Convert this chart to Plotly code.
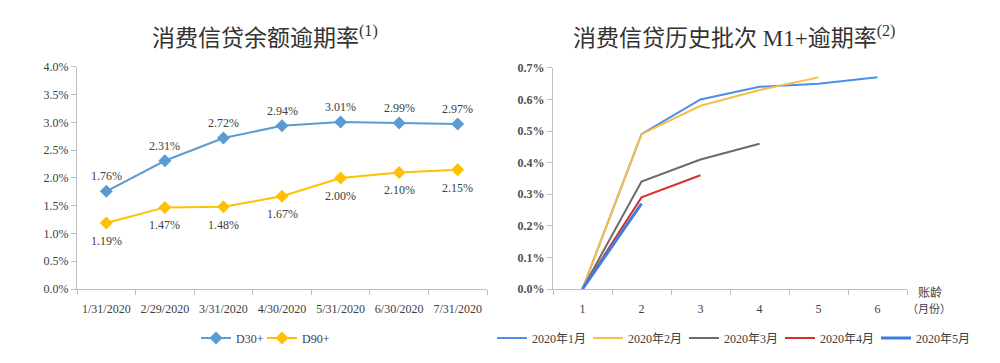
import plotly.graph_objects as go

# ---- Left chart data ----
dates = ["1/31/2020", "2/29/2020", "3/31/2020", "4/30/2020", "5/31/2020", "6/30/2020", "7/31/2020"]
d30 = [1.76, 2.31, 2.72, 2.94, 3.01, 2.99, 2.97]
d90 = [1.19, 1.47, 1.48, 1.67, 2.00, 2.10, 2.15]

# ---- Right chart data ----
ages = ["1", "2", "3", "4", "5", "6"]
vintage_names = ["2020年1月", "2020年2月", "2020年3月", "2020年4月", "2020年5月"]
v_jan = [0.00, 0.49, 0.60, 0.64, 0.65, 0.67]
v_feb = [0.00, 0.49, 0.58, 0.63, 0.67]
v_mar = [0.00, 0.34, 0.41, 0.46]
v_apr = [0.00, 0.29, 0.36]
v_may = [0.00, 0.27]

SERIF = "Liberation Serif, Times New Roman, Noto Sans CJK SC, serif"
TXT = "#404040"


# page has an 8px body margin: convert target pixel positions to paper coords
def px(x):
    return (x - 8) / 1000


def py(y):
    return 1 - (y - 8) / 363


fig = go.Figure()

fig.add_trace(go.Scatter(
    x=dates, y=d30, name="D30+", mode="lines+markers",
    line=dict(color="#5B9BD5", width=2),
    marker=dict(symbol="diamond", size=10, color="#5B9BD5"),
    xaxis="x", yaxis="y", legend="legend"))
fig.add_trace(go.Scatter(
    x=dates, y=d90, name="D90+", mode="lines+markers",
    line=dict(color="#FFC000", width=2),
    marker=dict(symbol="diamond", size=10, color="#FFC000"),
    xaxis="x", yaxis="y", legend="legend2"))

right_colors = ["#4A8FEA", "#F7BE45", "#6B6B6B", "#D8312E", "#3C7FE0"]
right_widths = [2, 2, 2, 2, 3]
right_legends = ["legend3", "legend4", "legend5", "legend6", "legend7"]
for name, vals, col, w, lg in zip(vintage_names, [v_jan, v_feb, v_mar, v_apr, v_may],
                                  right_colors, right_widths, right_legends):
    fig.add_trace(go.Scatter(
        x=ages[:len(vals)], y=vals, name=name, mode="lines",
        line=dict(color=col, width=w),
        xaxis="x2", yaxis="y2", legend=lg))

axis_common = dict(showline=True, linecolor="#BFBFBF", linewidth=1, showgrid=False,
                   zeroline=False, ticks="outside", tickcolor="#BFBFBF", ticklen=5)

annotations = []
for d, v in zip(dates, d30):
    annotations.append(dict(x=d, y=v, xref="x", yref="y", text=f"{v:.2f}%", showarrow=False,
                            yshift=15, font=dict(family=SERIF, size=12, color=TXT)))
for d, v in zip(dates, d90):
    annotations.append(dict(x=d, y=v, xref="x", yref="y", text=f"{v:.2f}%", showarrow=False,
                            yshift=-18, font=dict(family=SERIF, size=12, color=TXT)))

annotations += [
    dict(text="消费信贷余额逾期率<sup>(1)</sup>", x=px(265), y=py(30), xref="paper", yref="paper",
         xanchor="center", yanchor="middle", showarrow=False,
         font=dict(family=SERIF, size=23, color="#333333")),
    dict(text="消费信贷历史批次 M1+逾期率<sup>(2)</sup>", x=px(734), y=py(30), xref="paper", yref="paper",
         xanchor="center", yanchor="middle", showarrow=False,
         font=dict(family=SERIF, size=23, color="#333333")),
    dict(text="账龄", x=px(930), y=py(297), xref="paper", yref="paper",
         xanchor="center", yanchor="middle", showarrow=False,
         font=dict(family=SERIF, size=12, color=TXT)),
    dict(text="（月份）", x=px(929), y=py(314), xref="paper", yref="paper",
         xanchor="center", yanchor="middle", showarrow=False,
         font=dict(family=SERIF, size=11, color=TXT)),
]


def leg(xpix):
    # xpix = desired start of the legend line sample
    return dict(orientation="h", x=px(xpix - 6), xanchor="left", y=py(344), yanchor="middle",
                font=dict(family=SERIF, size=12, color=TXT), bgcolor="rgba(0,0,0,0)",
                itemwidth=30, borderwidth=0)


fig.update_layout(
    width=1000, height=363,
    margin=dict(l=0, r=0, t=0, b=0),
    paper_bgcolor="white", plot_bgcolor="white",
    font=dict(family=SERIF, color=TXT, size=12),
    xaxis=dict(domain=[px(77), px(487)], anchor="y", type="category", tickson="boundaries",
               range=[-0.5, 6.5], ticklabelstandoff=9,
               tickfont=dict(family=SERIF, size=12, color=TXT), **axis_common),
    yaxis=dict(domain=[py(293), py(62)], anchor="x", range=[0, 4.0], dtick=0.5,
               tickformat=".1f", ticksuffix="%",
               tickfont=dict(family=SERIF, size=12, color=TXT), **axis_common),
    xaxis2=dict(domain=[px(553), px(907)], anchor="y2", type="category", tickson="boundaries",
                range=[-0.5, 5.5], ticklabelstandoff=9,
                tickfont=dict(family=SERIF, size=12, color=TXT), **axis_common),
    yaxis2=dict(domain=[py(293), py(63)], anchor="x2", range=[0, 0.7], dtick=0.1,
                tickformat=".1f", ticksuffix="%",
                tickfont=dict(family=SERIF, size=12, color="#505050", weight="bold"), **axis_common),
    legend=leg(202),
    legend2=leg(268),
    legend3=leg(498),
    legend4=leg(594),
    legend5=leg(690),
    legend6=leg(786),
    legend7=leg(882),
    showlegend=True,
    annotations=annotations,
)

fig.write_html("out.html")
